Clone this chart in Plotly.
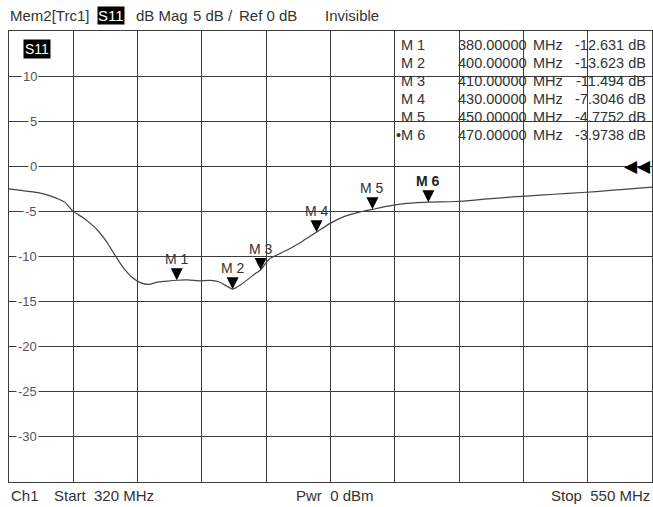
import plotly.graph_objects as go

# ---------------- data ----------------
freq_mhz = [320, 325, 330, 335, 340, 343, 346, 349, 352, 355, 358, 361, 364, 367, 370,
            373, 376, 380, 384, 388, 392, 395, 398, 400, 403, 406, 408, 410, 413, 416,
            420, 425, 430, 435, 440, 445, 450, 455, 460, 465, 470, 480, 490, 500, 510,
            520, 530, 540, 550]
s11_db = [-2.5, -2.7, -2.9, -3.3, -4.0, -5.0, -5.6, -6.3, -7.2, -8.4, -9.9, -11.3, -12.3, -12.9, -13.1,
          -12.85, -12.75, -12.631, -12.6, -12.7, -12.65, -12.8, -13.3, -13.623, -13.1, -12.4, -11.9, -11.494, -10.3, -9.8,
          -9.2, -8.3, -7.3046, -6.3, -5.55, -5.1, -4.7752, -4.45, -4.2, -4.05, -3.9738, -3.9, -3.65, -3.4, -3.2,
          -3.0, -2.8, -2.55, -2.3]

marker_names = ["M 1", "M 2", "M 3", "M 4", "M 5", "M 6"]
marker_freq = [380, 400, 410, 430, 450, 470]
marker_db = [-12.631, -13.623, -11.494, -7.3046, -4.7752, -3.9738]
marker_db_text = ["-12.631", "-13.623", "-11.494", "-7.3046", "-4.7752", "-3.9738"]
active_marker = "M 6"

y_ticks = [10, 5, 0, -5, -10, -15, -20, -25, -30]
x_start, x_stop = 320, 550
y_min, y_max = -35, 15
ref_level = 0

header_items = ["Mem2[Trc1]", "S11", "dB Mag", "5 dB /", "Ref 0 dB", "Invisible"]
footer_items = ["Ch1", "Start  320 MHz", "Pwr  0 dBm", "Stop  550 MHz"]

# ---------------- layout geometry ----------------
W, H = 653, 507
L, R, T, B = 9, 1, 31, 25
PW, PH = W - L - R, H - T - B
FONT = "Liberation Sans, Arial, sans-serif"
TXT = "#333333"
GRID = "#3c3c3c"


def pxx(p):
    return (p - L) / PW


def pxy(p):
    return 1 - (p - T) / PH


fig = go.Figure()
fig.add_trace(go.Scatter(x=freq_mhz, y=s11_db, mode="lines",
                         line=dict(color="#444444", width=1.2, shape="spline", smoothing=0.6),
                         hoverinfo="skip", showlegend=False))
fig.add_trace(go.Scatter(x=marker_freq, y=marker_db, mode="markers",
                         marker=dict(symbol="arrow-down", size=12, color="black",
                                     line=dict(width=0)),
                         cliponaxis=False, hoverinfo="skip", showlegend=False))

ann = []
# marker labels
for n, f, v in zip(marker_names, marker_freq, marker_db):
    bold = n == active_marker
    ann.append(dict(x=f, y=v, xref="x", yref="y", text=f"<b>{n}</b>" if bold else n,
                    showarrow=False, yshift=21, xanchor="center", yanchor="middle",
                    font=dict(family=FONT, size=14, color="#222222" if bold else TXT)))

# marker table
for i, (n, f, t) in enumerate(zip(marker_names, marker_freq, marker_db_text)):
    yy = pxy(45 + 18 * i)
    name = ("•" + n) if n == active_marker else n
    common = dict(xref="paper", yref="paper", y=yy, yanchor="middle", showarrow=False,
                  font=dict(family=FONT, size=14.5, color=TXT))
    ann.append(dict(x=pxx(427), xanchor="right", text=name, **common))
    ann.append(dict(x=pxx(529), xanchor="right", text=f"{f:.5f}", **common))
    ann.append(dict(x=pxx(531), xanchor="left", text="MHz", **common))
    ann.append(dict(x=pxx(648), xanchor="right", text=f"{t} dB", **common))

# y tick labels inside the plot
for v in y_ticks:
    ann.append(dict(x=pxx(39), y=v, xref="paper", yref="y", text=str(v), showarrow=False,
                    xanchor="right", yanchor="middle", bgcolor="white", borderpad=1,
                    font=dict(family=FONT, size=13, color="#555555")))

# trace label in plot
ann.append(dict(x=pxx(36.5), y=pxy(49), xref="paper", yref="paper", text="S11", showarrow=False,
                xanchor="center", yanchor="middle", bgcolor="black", borderpad=1,
                font=dict(family=FONT, size=14, color="white")))

# reference level arrow
ann.append(dict(x=1, y=ref_level, xref="paper", yref="y", text="◀◀", showarrow=False,
                xanchor="right", yanchor="middle", xshift=1,
                font=dict(family="DejaVu Sans", size=17, color="black")))

# header
hx = [8, 97, 134, 191, 237, 323]
for i, (t, x0) in enumerate(zip(header_items, hx)):
    d = dict(x=pxx(x0), y=pxy(15), xref="paper", yref="paper", text=t, showarrow=False,
             xanchor="left", yanchor="middle", font=dict(family=FONT, size=15, color=TXT))
    if t == "S11":
        d.update(bgcolor="black", borderpad=0, font=dict(family=FONT, size=15, color="white"))
    ann.append(d)

# footer
fx = [(9, "left"), (52, "left"), (294, "left"), (652, "right")]
for t, (x0, anc) in zip(footer_items, fx):
    ann.append(dict(x=pxx(x0), y=pxy(495), xref="paper", yref="paper", text=t, showarrow=False,
                    xanchor=anc, yanchor="middle", font=dict(family=FONT, size=15, color=TXT)))

fig.update_layout(
    width=W, height=H, margin=dict(l=L, r=R, t=T, b=B, pad=0),
    paper_bgcolor="white", plot_bgcolor="white",
    annotations=ann, showlegend=False,
    xaxis=dict(range=[x_start, x_stop], tick0=x_start, dtick=(x_stop - x_start) / 10,
               showgrid=True, gridcolor=GRID, gridwidth=1, showticklabels=False, ticks="",
               zeroline=False, showline=True, linecolor=GRID, linewidth=1, mirror=True,
               fixedrange=True),
    yaxis=dict(range=[y_min, y_max], tick0=0, dtick=5,
               showgrid=True, gridcolor=GRID, gridwidth=1, showticklabels=False, ticks="",
               zeroline=False, showline=True, linecolor=GRID, linewidth=1, mirror=True,
               fixedrange=True),
)

fig.write_html("out.html", config={"displayModeBar": False},
               post_script="document.body.style.margin='0';document.body.style.overflow='hidden';")
